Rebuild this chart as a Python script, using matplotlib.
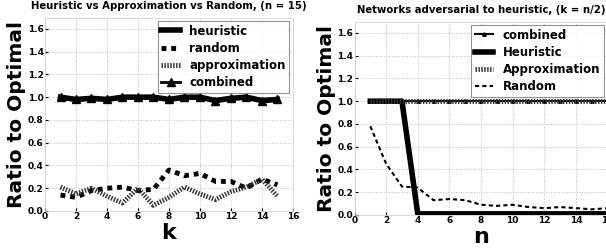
import matplotlib
matplotlib.use("Agg")
import matplotlib.pyplot as plt

# left panel: n = 15, varying k
k = list(range(1, 16))
heuristic_k = [1.0, 0.98, 0.99, 0.98, 1.0, 1.0, 1.0, 0.98, 1.0, 1.0, 0.97, 0.99, 1.0, 0.97, 0.98]
random_k = [0.14, 0.12, 0.18, 0.20, 0.21, 0.18, 0.19, 0.36, 0.31, 0.33, 0.26, 0.26, 0.20, 0.28, 0.23]
approx_k = [0.21, 0.15, 0.20, 0.13, 0.07, 0.20, 0.05, 0.12, 0.21, 0.15, 0.10, 0.17, 0.21, 0.28, 0.13]
combined_k = [1.0, 0.98, 0.99, 0.98, 1.0, 1.0, 1.0, 0.98, 1.0, 1.0, 0.97, 0.99, 1.0, 0.97, 0.98]

# right panel: adversarial networks, k = n/2
n = list(range(1, 17))
combined_n = [1.0] * 16
heuristic_n = [1.0, 1.0, 1.0, 0.01, 0.01, 0.01, 0.01, 0.01, 0.01, 0.01, 0.01, 0.01, 0.01, 0.01, 0.01, 0.01]
approx_n = [1.0] * 16
random_n = [0.78, 0.45, 0.25, 0.24, 0.13, 0.14, 0.13, 0.09, 0.08, 0.09, 0.07, 0.06, 0.07, 0.06, 0.05, 0.06]

hatch = (0, (0.3, 0.3))   # very fine stripes, looks grey
dots = (0, (1, 1))

fig = plt.figure(figsize=(6.06, 2.5), dpi=100)
ax1 = fig.add_axes([0.0743, 0.156, 0.409, 0.774])
ax2 = fig.add_axes([0.585, 0.14, 0.4175, 0.774])

ax1.plot(k, heuristic_k, color="black", lw=4, label="heuristic")
ax1.plot(k, random_k, color="black", lw=3.5, linestyle=dots, dash_capstyle="butt", label="random")
ax1.plot(k, approx_k, color="#333333", lw=3.5, linestyle=hatch, dash_capstyle="butt", label="approximation")
ax1.plot(k, combined_k, color="black", lw=2, marker="^", ms=5.5, label="combined")
ax1.set_title("Heuristic vs Approximation vs Random, (n = 15)", fontsize=7.3, fontweight="bold")
ax1.set_xlabel("k", fontsize=16, fontweight="bold", labelpad=1)

ax2.plot(n, combined_n, color="black", lw=1.5, marker="^", ms=2.5, label="combined")
ax2.plot(n, heuristic_n, color="black", lw=4, label="Heuristic")
ax2.plot(n, approx_n, color="#333333", lw=3.5, linestyle=hatch, dash_capstyle="butt", label="Approximation")
ax2.plot(n, random_n, color="black", lw=1.5, linestyle=(0, (2, 1.5)), label="Random")
ax2.set_title("Networks adversarial to heuristic, (k = n/2)", fontsize=7.3, fontweight="bold")
ax2.set_xlabel("n", fontsize=16, fontweight="bold", labelpad=1)

for ax in (ax1, ax2):
    ax.set_xlim(0, 16)
    ax.set_ylim(0, 1.7)
    ax.set_xticks(range(0, 17, 2))
    ax.set_yticks([0.0, 0.2, 0.4, 0.6, 0.8, 1.0, 1.2, 1.4, 1.6])
    ax.set_yticklabels(["0.0", "0.2", "0.4", "0.6", "0.8", "1.0", "1.2", "1.4", "1.6"])
    ax.grid(True, color="#bbbbbb", linestyle=":", lw=0.7)
    ax.tick_params(direction="in", length=2, labelsize=6.5, pad=1)
    for lab in ax.get_xticklabels() + ax.get_yticklabels():
        lab.set_fontweight("bold")
    for sp in ax.spines.values():
        sp.set_color("#cccccc")
        sp.set_linewidth(0.5)
    ax.set_ylabel("Ratio to Optimal", fontsize=14.5, fontweight="bold", labelpad=1)
    leg = ax.legend(loc="upper right", prop={"size": 8.5, "weight": "bold"},
                    handlelength=1.6, fancybox=False, borderpad=0.3,
                    labelspacing=0.35, handletextpad=0.8, borderaxespad=0.3)
    leg.get_frame().set_edgecolor("#777777")
    leg.get_frame().set_linewidth(0.8)

fig.savefig("out.png", dpi=100)
